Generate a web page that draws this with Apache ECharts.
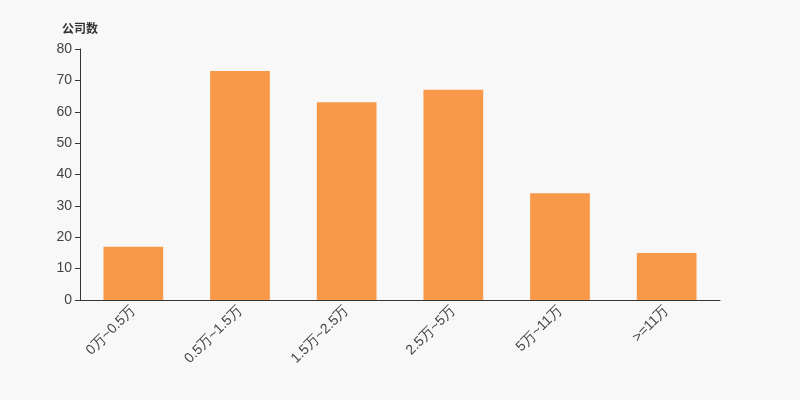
<!DOCTYPE html>
<html><head><meta charset="utf-8">
<script src="https://cdn.jsdelivr.net/npm/echarts@6/dist/echarts.min.js"></script>
<style>html,body{margin:0;padding:0;background:#f8f8f8}#c{width:800px;height:400px}</style>
</head><body><div id="c"></div>
<script>
var categories = ['0万~0.5万','0.5万~1.5万','1.5万~2.5万','2.5万~5万','5万~11万','>=11万'];
var values = [17, 73, 63, 67, 34, 15];
var chart = echarts.init(document.getElementById('c'));
chart.setOption({
  backgroundColor: '#f8f8f8',
  animation: false,
  grid: {left: 80, right: 80, top: 49, bottom: 100},
  xAxis: {
    type: 'category', data: categories,
    axisLine: {lineStyle: {color: '#333'}},
    axisTick: {lineStyle: {color: '#333'}},
    axisLabel: {rotate: 45, color: '#444', fontSize: 14, interval: 0, fontFamily: 'sans-serif'}
  },
  yAxis: {
    type: 'value', min: 0, max: 80, interval: 10,
    name: '公司数', nameGap: 15,
    nameTextStyle: {color: '#333', fontWeight: 'bold', fontSize: 12, fontFamily: 'Noto Sans CJK SC'},
    axisLine: {show: true, lineStyle: {color: '#333'}},
    axisTick: {show: true, lineStyle: {color: '#333'}},
    axisLabel: {color: '#444', fontSize: 14, fontFamily: 'sans-serif'},
    splitLine: {show: false}
  },
  series: [{type: 'bar', data: values, barWidth: '56%', itemStyle: {color: '#f8994a'}}]
});
</script></body></html>
